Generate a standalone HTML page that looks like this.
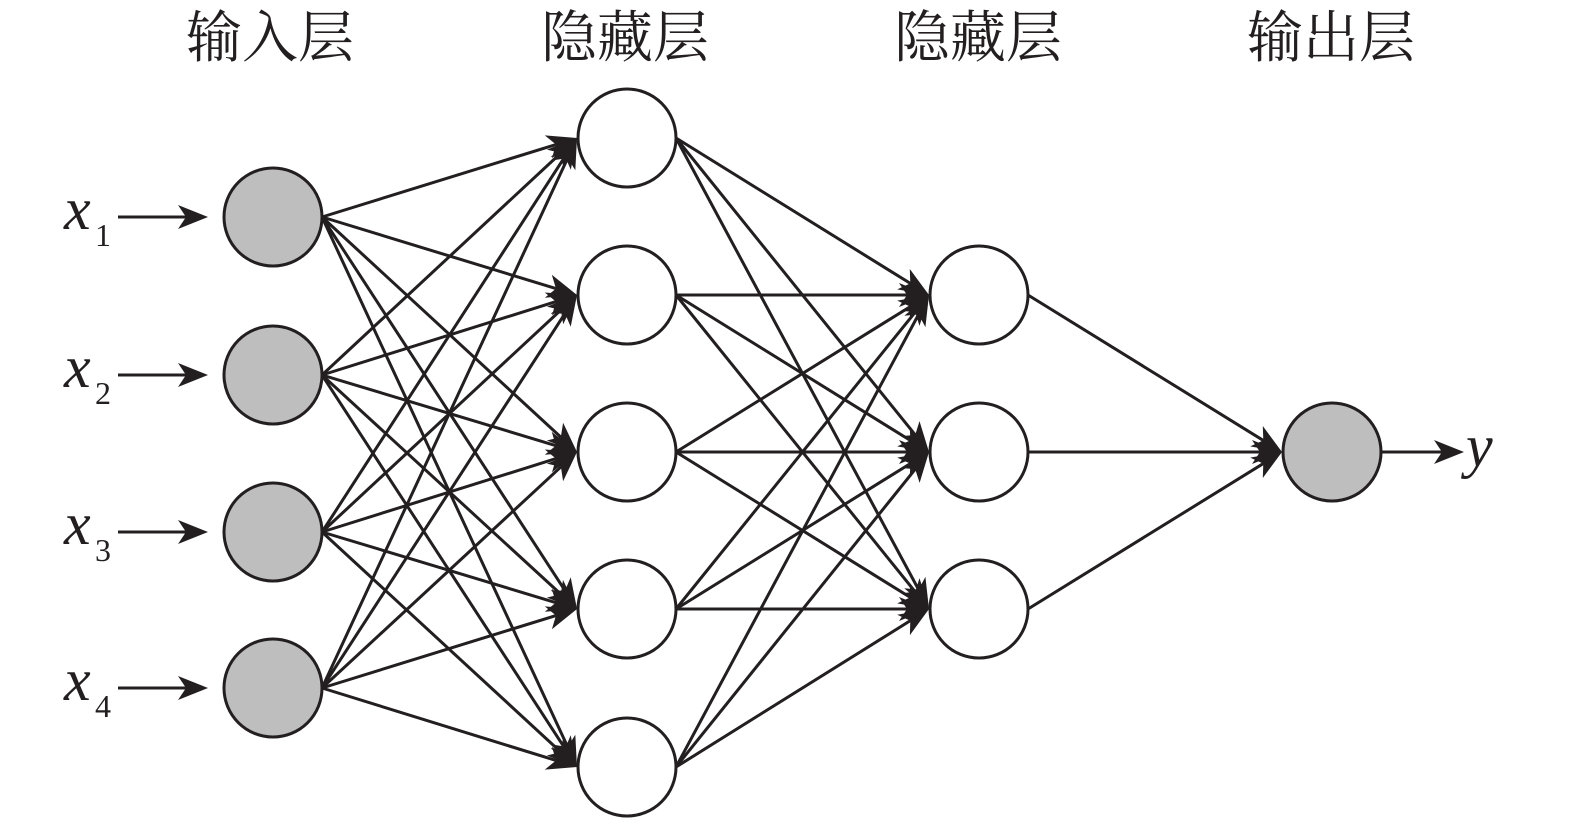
<!DOCTYPE html>
<html><head><meta charset="utf-8"><style>
html,body{margin:0;padding:0;background:#fff;}
svg{display:block}
.t{font-family:"Liberation Serif","Noto Serif CJK SC","Noto Sans CJK SC",serif;font-size:56px;fill:#231f20}
.v{font-family:"Liberation Serif",serif;font-style:italic;font-size:60px;fill:#231f20}
.s{font-family:"Liberation Serif",serif;font-size:32px;fill:#231f20}
</style></head><body>
<svg id="g" width="1575" height="824" viewBox="0 0 1575 824" xmlns="http://www.w3.org/2000/svg">
<text class="t" x="270" y="57" text-anchor="middle">输入层</text>
<text class="t" x="625" y="57" text-anchor="middle">隐藏层</text>
<text class="t" x="978" y="57" text-anchor="middle">隐藏层</text>
<text class="t" x="1331" y="57" text-anchor="middle">输出层</text>
<text class="v" x="64" y="229">x</text><text class="s" x="95" y="246">1</text>
<text class="v" x="64" y="387">x</text><text class="s" x="95" y="404">2</text>
<text class="v" x="64" y="544">x</text><text class="s" x="95" y="561">3</text>
<text class="v" x="64" y="700">x</text><text class="s" x="95" y="717">4</text>
<text class="v" x="1466" y="466">y</text>
<g id="e"></g><g id="n"></g>
</svg>
<script>
var NS="http://www.w3.org/2000/svg",E=document.getElementById('e'),N=document.getElementById('n');
var L=[[273,[217,375,532,688]],[627,[138,295,452,609,767]],[979,[295,452,609]],[1332,[452]]];
var R=49;
function line(x1,y1,x2,y2){var l=document.createElementNS(NS,'line');l.setAttribute('x1',x1);l.setAttribute('y1',y1);l.setAttribute('x2',x2);l.setAttribute('y2',y2);l.setAttribute('stroke','#231f20');l.setAttribute('stroke-width','3');E.appendChild(l);}
function head(tx,ty,ux,uy){var len=30,w=12,b=22;var px=-uy,py=ux;
var p=[[tx,ty],[tx-ux*len+px*w,ty-uy*len+py*w],[tx-ux*b,ty-uy*b],[tx-ux*len-px*w,ty-uy*len-py*w]];
var g=document.createElementNS(NS,'polygon');g.setAttribute('points',p.map(function(a){return a[0].toFixed(1)+','+a[1].toFixed(1)}).join(' '));g.setAttribute('fill','#231f20');E.appendChild(g);}
function arrow(x1,y1,x2,y2){var dx=x2-x1,dy=y2-y1,d=Math.hypot(dx,dy),ux=dx/d,uy=dy/d;line(x1,y1,x2-ux*22,y2-uy*22);head(x2,y2,ux,uy);}
for(var k=0;k<3;k++){var A=L[k],B=L[k+1];A[1].forEach(function(ya){B[1].forEach(function(yb){arrow(A[0]+R,ya,B[0]-R-1,yb);});});}
L[0][1].forEach(function(y){arrow(118,y,208,y);});
arrow(1381,452,1464,452);
L.forEach(function(l,i){l[1].forEach(function(y){var c=document.createElementNS(NS,'circle');c.setAttribute('cx',l[0]);c.setAttribute('cy',y);c.setAttribute('r',R);c.setAttribute('fill',(i==0||i==3)?'#bebebe':'#fff');c.setAttribute('stroke','#231f20');c.setAttribute('stroke-width','3');N.appendChild(c);});});
</script>
</body></html>
